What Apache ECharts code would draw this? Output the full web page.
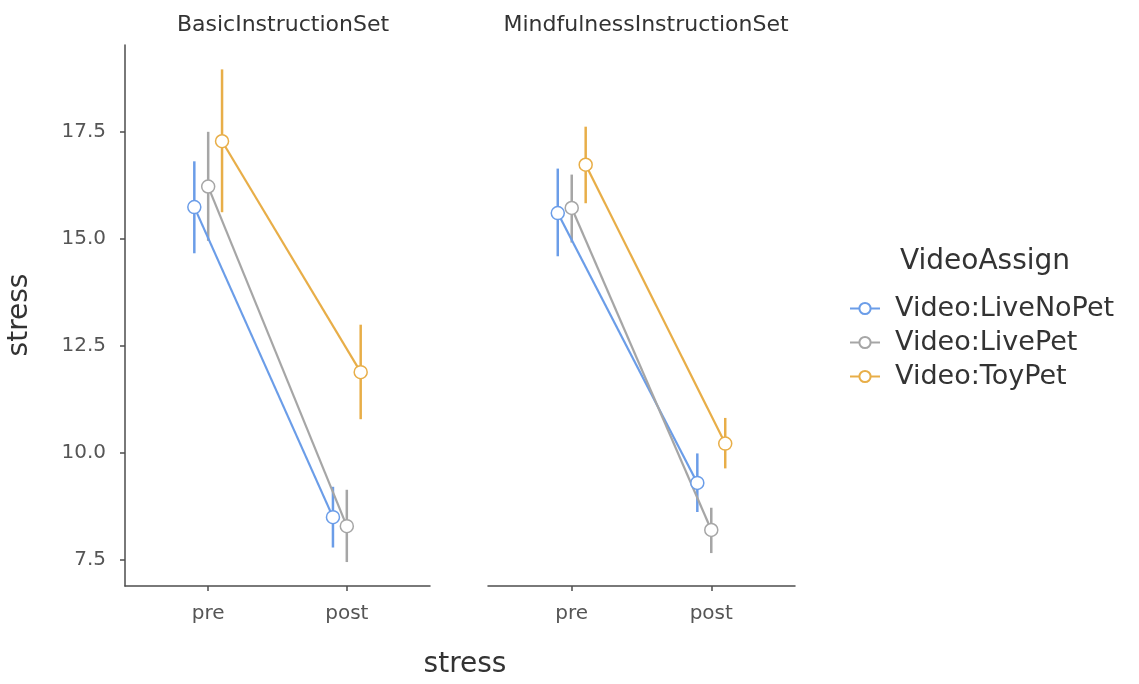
<!DOCTYPE html>
<html>
<head>
<meta charset="utf-8">
<script src="https://cdn.jsdelivr.net/npm/echarts@6/dist/echarts.min.js"></script>
<style>
  html, body { margin: 0; padding: 0; background: #fff; }
  #chart { width: 1139px; height: 684px; }
</style>
</head>
<body>
<div id="chart"></div>
<script>
// facets, x categories and groups
const facets = ['BasicInstructionSet', 'MindfulnessInstructionSet'];
const phases = ['pre', 'post'];
const groups = ['Video:LiveNoPet', 'Video:LivePet', 'Video:ToyPet'];
const yTicks = [7.5, 10.0, 12.5, 15.0, 17.5];

// means [pre, post] per group, and the error bar ends
const basicMean = [[15.74, 8.49], [16.22, 8.28], [17.28, 11.88]];
const basicLow = [[14.66, 7.78], [14.95, 7.44], [15.62, 10.78]];
const basicHigh = [[16.81, 9.20], [17.50, 9.13], [18.96, 12.99]];

const mindMean = [[15.60, 9.29], [15.72, 8.19], [16.73, 10.21]];
const mindLow = [[14.59, 8.61], [14.91, 7.65], [15.83, 9.63]];
const mindHigh = [[16.64, 9.98], [16.50, 8.71], [17.62, 10.81]];

const colors = ['#6B9DE8', '#A6A6A6', '#E8AE48'];
const dodge = [-0.1, 0, 0.1];   // position_dodge like offsets
const font = '"DejaVu Sans", "Liberation Sans", sans-serif';
const axisColor = '#4d4d4d';
const textColor = '#555555';

const chart = echarts.init(document.getElementById('chart'));

function xAxisOpt(idx) {
  return {
    type: 'value',
    gridIndex: idx,
    min: 0.4,
    max: 2.6,
    splitLine: { show: false },
    axisLine: { show: true, lineStyle: { color: axisColor, width: 1.5 } },
    axisTick: { show: true, customValues: [1, 2], length: 5, lineStyle: { color: axisColor, width: 1.5 } },
    axisLabel: {
      customValues: [1, 2],
      formatter: v => phases[Math.round(v) - 1],
      color: textColor, fontFamily: font, fontSize: 20, margin: 18
    }
  };
}

function yAxisOpt(idx, show) {
  return {
    type: 'value',
    gridIndex: idx,
    min: 6.88,
    max: 19.53,
    splitLine: { show: false },
    axisLine: { show: show, lineStyle: { color: axisColor, width: 1.5 } },
    axisTick: { show: show, customValues: yTicks, length: 5, lineStyle: { color: axisColor, width: 1.5 } },
    axisLabel: {
      show: show,
      customValues: yTicks,
      formatter: v => v.toFixed(1),
      color: textColor, fontFamily: font, fontSize: 20, margin: 19
    }
  };
}

function errSeries(idx, g, low, high) {
  return {
    type: 'custom',
    name: 'err' + idx + g,
    xAxisIndex: idx,
    yAxisIndex: idx,
    z: 2,
    silent: true,
    data: phases.map((p, i) => [i + 1 + dodge[g], low[g][i], high[g][i]]),
    encode: { x: 0, y: [1, 2] },
    renderItem: (params, api) => {
      const a = api.coord([api.value(0), api.value(1)]);
      const b = api.coord([api.value(0), api.value(2)]);
      return {
        type: 'line',
        shape: { x1: a[0], y1: a[1], x2: b[0], y2: b[1] },
        style: { stroke: colors[g], lineWidth: 2.5 }
      };
    }
  };
}

function lineSeries(idx, g, mean) {
  return {
    type: 'line',
    name: groups[g],
    xAxisIndex: idx,
    yAxisIndex: idx,
    z: 3,
    data: phases.map((p, i) => [i + 1 + dodge[g], mean[g][i]]),
    symbol: 'circle',
    symbolSize: 13,
    showSymbol: true,
    lineStyle: { color: colors[g], width: 2.2 },
    itemStyle: { color: '#ffffff', borderColor: colors[g], borderWidth: 1.5 },
    emphasis: { disabled: true }
  };
}

const series = [];
[[basicMean, basicLow, basicHigh], [mindMean, mindLow, mindHigh]].forEach((set, idx) => {
  groups.forEach((name, g) => {
    series.push(errSeries(idx, g, set[1], set[2]));
  });
  groups.forEach((name, g) => {
    series.push(lineSeries(idx, g, set[0]));
  });
});

const option = {
  backgroundColor: '#ffffff',
  animation: false,
  grid: [
    { left: 125, right: 709, top: 45, bottom: 98 },
    { left: 488, right: 344, top: 45, bottom: 98 }
  ],
  xAxis: [xAxisOpt(0), xAxisOpt(1)],
  yAxis: [yAxisOpt(0, true), yAxisOpt(1, false)],
  title: [
    { text: facets[0], left: 278, top: 9, textAlign: 'center',
      textStyle: { fontFamily: font, fontSize: 22, fontWeight: 'normal', color: '#333333' } },
    { text: facets[1], left: 641, top: 9, textAlign: 'center',
      textStyle: { fontFamily: font, fontSize: 22, fontWeight: 'normal', color: '#333333' } },
    { text: 'VideoAssign', left: 895, top: 243,
      textStyle: { fontFamily: font, fontSize: 28, fontWeight: 'normal', color: '#333333' } },
    { text: 'stress', left: 460, top: 646, textAlign: 'center',
      textStyle: { fontFamily: font, fontSize: 28, fontWeight: 'normal', color: '#333333' } }
  ],
  graphic: [
    { type: 'text', x: 20, y: 315, rotation: Math.PI / 2,
      style: { text: 'stress', fill: '#333333', font: '28px ' + font, align: 'center', verticalAlign: 'middle' } }
  ],
  legend: {
    data: groups,
    orient: 'vertical',
    left: 844,
    top: 290,
    itemWidth: 30,
    itemHeight: 14,
    itemGap: 7,
    textStyle: { fontFamily: font, fontSize: 27, color: '#333333', padding: [0, 0, 0, 10] },
    selectedMode: false
  },
  series: series
};

chart.setOption(option);
</script>
</body>
</html>
